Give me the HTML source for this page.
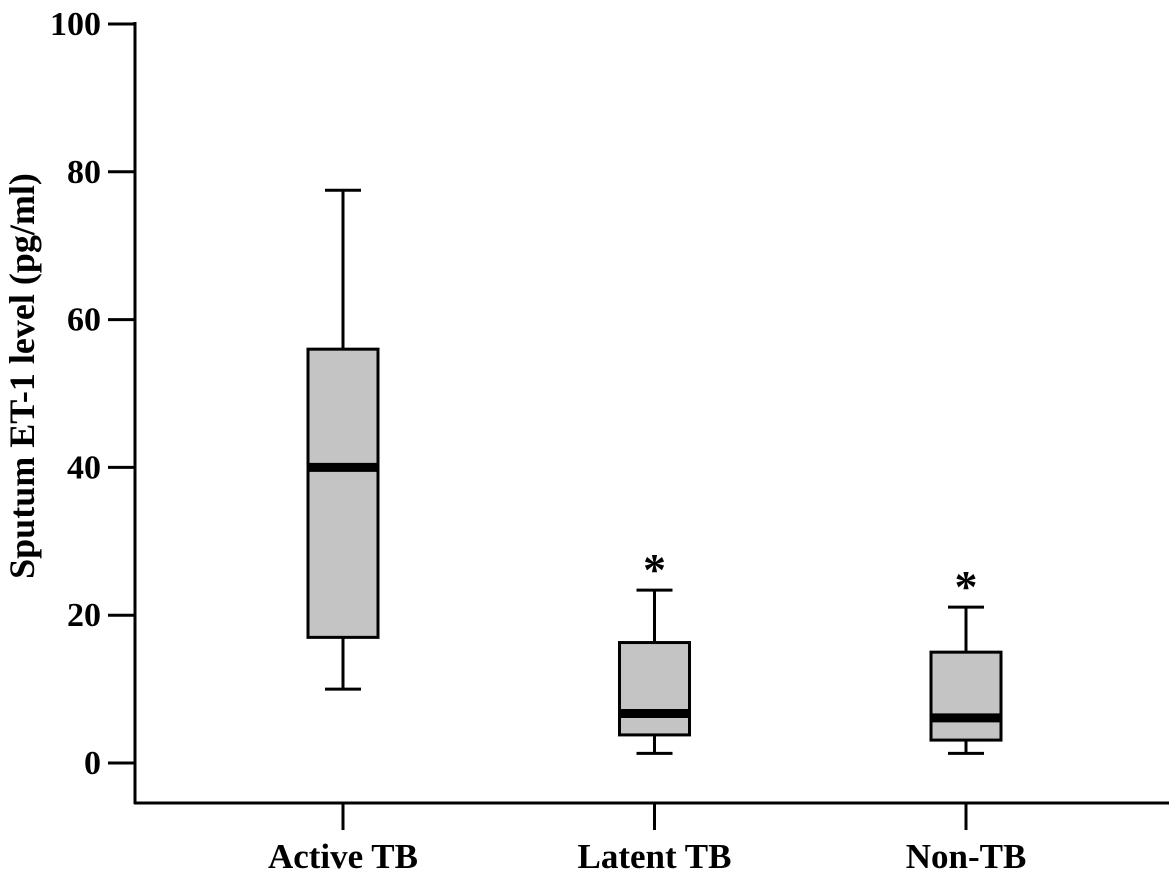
<!DOCTYPE html>
<html><head><meta charset="utf-8"><style>
body{margin:0;background:#fff;}
svg text{font-family:"Liberation Serif",serif;font-weight:bold;fill:#000;}
</style></head><body>
<svg width="1169" height="880">
<g id="axes"></g><g id="marks"></g>
</svg>
<script>
const categories=["Active TB","Latent TB","Non-TB"];
const whiskerLow=[10,1.3,1.3];
const q1Values=[17,3.8,3.1];
const medianValues=[40,6.7,6.1];
const q3Values=[56,16.3,15];
const whiskerHigh=[77.5,23.4,21.1];
const significant=[false,true,true];
const yTicks=[0,20,40,60,80,100];
const ns="http://www.w3.org/2000/svg";
const y=v=>763-v*7.39;
const x=i=>343+i*311.5;
function mk(parent,tag,attrs){const e=document.createElementNS(ns,tag);for(const k in attrs)e.setAttribute(k,attrs[k]);parent.appendChild(e);return e;}
const ax=document.getElementById('axes'),mg=document.getElementById('marks');
let e=mk(ax,'line',{x1:135,y1:22,x2:135,y2:804,stroke:'#000','stroke-width':3});


e=mk(ax,'line',{x1:134,y1:803,x2:1169,y2:803,stroke:'#000','stroke-width':3});


yTicks.forEach(t=>{
 let l=mk(ax,'line',{x1:108,y1:y(t),x2:135,y2:y(t),stroke:'#000','stroke-width':3});
 
 
 let tx=mk(ax,'text',{x:101,y:y(t)+11,'text-anchor':'end','font-size':34});
 tx.textContent=t;
 
 
});
let yt=mk(ax,'text',{x:0,y:0,'text-anchor':'middle','font-size':36,transform:'translate(34,376) rotate(-90)'});
yt.textContent='Sputum ET-1 level (pg/ml)';


categories.forEach((c,i)=>{
 const cx=x(i);
 let l=mk(ax,'line',{x1:cx,y1:803,x2:cx,y2:830,stroke:'#000','stroke-width':3});
 
 
 let tx=mk(ax,'text',{x:cx,y:868,'text-anchor':'middle','font-size':35});
 tx.textContent=c;
 
 
 const g=mk(mg,'g',{});
 
 
 mk(g,'line',{x1:cx,y1:y(whiskerHigh[i]),x2:cx,y2:y(q3Values[i]),stroke:'#000','stroke-width':3});
 mk(g,'line',{x1:cx,y1:y(q1Values[i]),x2:cx,y2:y(whiskerLow[i]),stroke:'#000','stroke-width':3});
 mk(g,'line',{x1:cx-18,y1:y(whiskerHigh[i]),x2:cx+18,y2:y(whiskerHigh[i]),stroke:'#000','stroke-width':3});
 mk(g,'line',{x1:cx-18,y1:y(whiskerLow[i]),x2:cx+18,y2:y(whiskerLow[i]),stroke:'#000','stroke-width':3});
 mk(g,'rect',{x:cx-35,y:y(q3Values[i]),width:70,height:y(q1Values[i])-y(q3Values[i]),fill:'#c4c4c4',stroke:'#000','stroke-width':3});
 mk(g,'line',{x1:cx-35,y1:y(medianValues[i]),x2:cx+35,y2:y(medianValues[i]),stroke:'#000','stroke-width':9});
 if(significant[i]){
  let s=mk(mg,'text',{x:cx,y:y(whiskerHigh[i])-5,'text-anchor':'middle','font-size':46});
  s.textContent='*';
  
  
 }
});
</script>
</body></html>
